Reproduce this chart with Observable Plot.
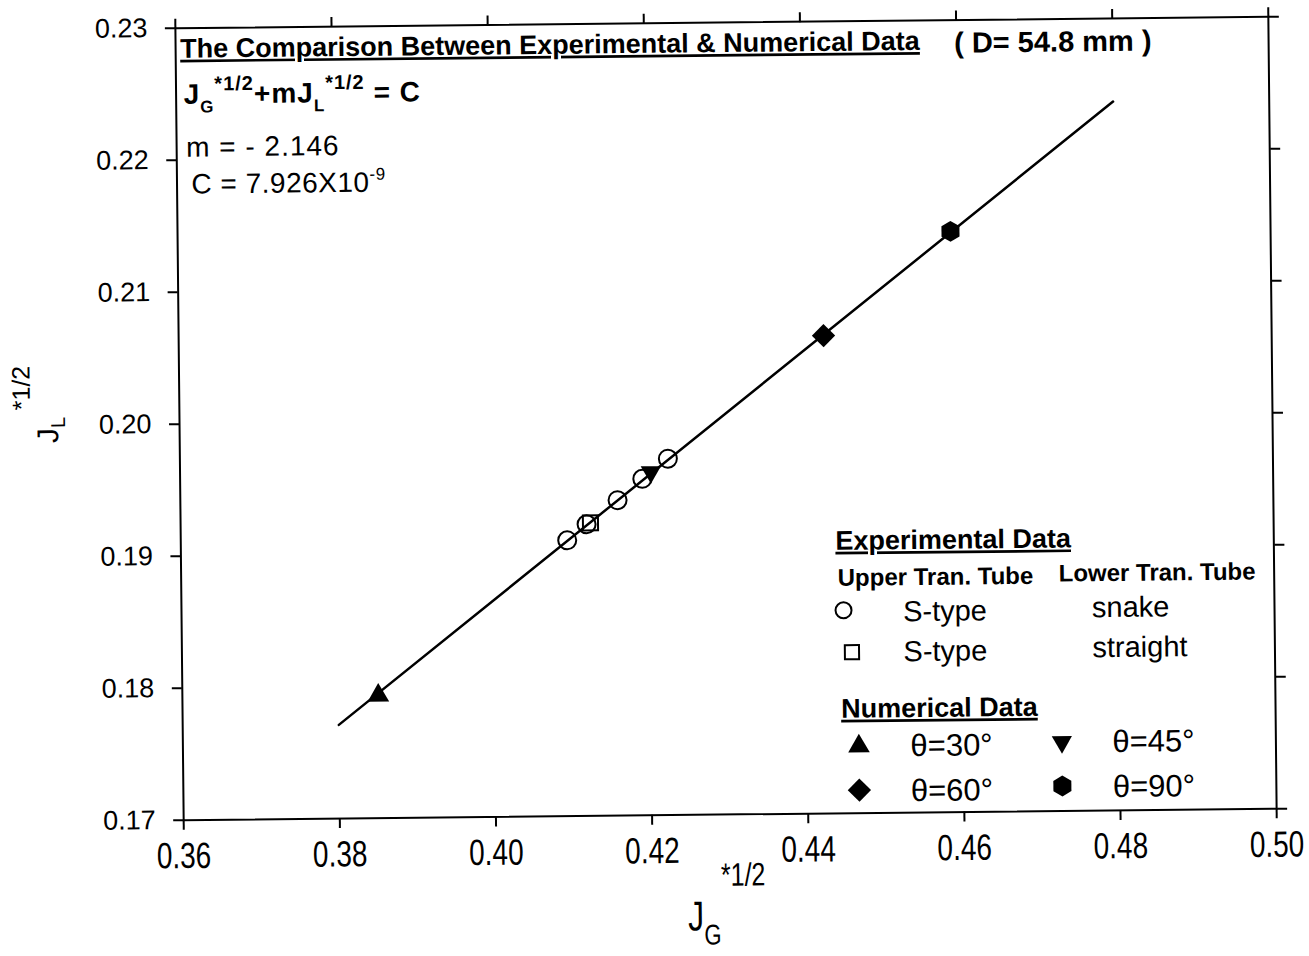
<!DOCTYPE html>
<html>
<head>
<meta charset="utf-8">
<script src="https://cdn.jsdelivr.net/npm/d3@7"></script>
<script src="https://cdn.jsdelivr.net/npm/@observablehq/plot@0.6"></script>
<style>
  html, body { margin: 0; padding: 0; background: #fff; }
  #chart svg { display: block; transform: rotate(-0.6deg); transform-origin: 726px 418px; }
  #chart text { white-space: pre; }
</style>
</head>
<body>
<div id="chart"></div>
<script>
// Axis ticks
const xTicks = [0.36, 0.38, 0.40, 0.42, 0.44, 0.46, 0.48, 0.50];
const yTicks = [0.17, 0.18, 0.19, 0.20, 0.21, 0.22, 0.23];

// Experimental data: S-type upper tube with snake lower tube
const snakeX = [0.4095, 0.4120, 0.4160, 0.4192, 0.4225];
const snakeY = [0.1909, 0.1921, 0.1939, 0.1955, 0.1970];

// Experimental data: S-type upper tube with straight lower tube
const straightX = [0.4125];
const straightY = [0.1922];

// Numerical data by inclination angle
const numAngle = ["θ=30°", "θ=45°", "θ=60°", "θ=90°"];
const numX = [0.3851, 0.4203, 0.4426, 0.4590];
const numY = [0.1793, 0.1960, 0.2062, 0.2140];

// Correlation line  J_G*1/2 + m J_L*1/2 = C  (m = -2.146)
const fitX = [0.38, 0.48];
const fitY = [0.1771, 0.2237];

const snake = snakeX.map((x, i) => ({x, y: snakeY[i]}));
const straight = straightX.map((x, i) => ({x, y: straightY[i]}));
const numerical = numAngle.map((angle, i) => ({angle, x: numX[i], y: numY[i]}));
const fit = fitX.map((x, i) => ({x, y: fitY[i]}));

const FONT = "'Liberation Sans', Arial, Helvetica, sans-serif";
const M = {top: 22, right: 37, bottom: 142, left: 179};
const fmt = d3.format(".2f");

// symbol styles shared by the plotted points and the legend
const sym = {
  "θ=30°": {symbol: "triangle", r: 8, rotate: 0},
  "θ=45°": {symbol: "triangle", r: 7.5, rotate: 180},
  "θ=60°": {symbol: "diamond2", r: 10.5, rotate: 0},
  "θ=90°": {symbol: "hexagon", r: 9, rotate: 0}
};

// legend symbol anchors in pixels (unrotated page coordinates)
const legendSyms = [
  {symbol: "circle", r: 8, x: 841, y: 611, filled: false},
  {symbol: "square", r: 8, x: 849, y: 653, filled: false},
  {key: "θ=30°", x: 855, y: 747},
  {key: "θ=45°", x: 1058, y: 745},
  {key: "θ=60°", x: 855, y: 791},
  {key: "θ=90°", x: 1058, y: 789}
];

const legendMarks = legendSyms.map(s => {
  const st = s.key ? sym[s.key] : {symbol: s.symbol, r: s.r, rotate: 0};
  const filled = s.key ? true : s.filled;
  return Plot.dot([0], {
    frameAnchor: "top-left",
    dx: s.x - M.left,
    dy: s.y - M.top,
    symbol: st.symbol,
    r: st.r,
    rotate: st.rotate,
    fill: filled ? "black" : "none",
    stroke: "black",
    strokeWidth: filled ? 0 : 2
  });
});

const numMarks = numerical.map(d => Plot.dot([d], {
  x: "x", y: "y",
  symbol: sym[d.angle].symbol,
  r: sym[d.angle].r,
  rotate: sym[d.angle].rotate,
  fill: "black"
}));

const plot = Plot.plot({
  width: 1309,
  height: 956,
  marginTop: M.top, marginRight: M.right, marginBottom: M.bottom, marginLeft: M.left,
  x: {domain: [0.36, 0.50]},
  y: {domain: [0.17, 0.23]},
  style: {fontFamily: FONT, fontSize: "27px", color: "black", background: "white", overflow: "visible"},
  marks: [
    Plot.frame({stroke: "black", strokeWidth: 2}),
    Plot.axisX({ticks: xTicks, tickSize: 10, tickPadding: 12, tickFormat: fmt, label: null, strokeWidth: 2}),
    Plot.axisX({anchor: "top", ticks: xTicks, tickSize: 10, tickFormat: () => "", label: null, strokeWidth: 2}),
    Plot.axisY({ticks: yTicks, tickSize: 10, tickPadding: 18, tickFormat: fmt, label: null, strokeWidth: 2}),
    Plot.axisY({anchor: "right", ticks: yTicks, tickSize: 10, tickFormat: () => "", label: null, strokeWidth: 2}),
    Plot.line(fit, {x: "x", y: "y", stroke: "black", strokeWidth: 2.5}),
    Plot.dot(snake, {x: "x", y: "y", symbol: "circle", r: 9, stroke: "black", strokeWidth: 2, fill: "none"}),
    Plot.dot(straight, {x: "x", y: "y", symbol: "square", r: 8.5, stroke: "black", strokeWidth: 2, fill: "none"}),
    ...numMarks,
    ...legendMarks
  ]
});

document.getElementById("chart").appendChild(plot);

const svg = d3.select(plot);

// x tick labels: tall narrow digits (stretch vertically about the tick anchor)
svg.selectAll('g[aria-label="x-axis tick label"] text').each(function () {
  const t = d3.select(this);
  const tr = t.attr("transform") || "";
  t.attr("font-size", 28).attr("transform", `${tr} scale(1,1.3)`);
});
svg.selectAll('g[aria-label="y-axis tick label"] text').attr("font-size", 27);

const ann = svg.append("g")
  .attr("font-family", FONT)
  .attr("fill", "black")
  .attr("text-anchor", "start");

// text with subscripts / superscripts; each part is [text, baseline offset, font size]
function rich(parent, x, y, parts, weight, spacing) {
  const t = parent.append("text")
    .attr("x", x).attr("y", y)
    .attr("text-anchor", "start")
    .attr("font-weight", weight || "normal")
    .attr("letter-spacing", spacing || null);
  let cur = 0;
  for (const [s, off, fs] of parts) {
    t.append("tspan").attr("dy", off - cur).attr("font-size", fs).text(s);
    cur = off;
  }
  return t;
}
function plain(parent, x, y, s, size, weight, underline, spacing) {
  return parent.append("text")
    .attr("x", x).attr("y", y)
    .attr("text-anchor", "start")
    .attr("font-size", size)
    .attr("font-weight", weight || "normal")
    .attr("text-decoration", underline ? "underline" : null)
    .attr("letter-spacing", spacing || null)
    .text(s);
}

// heading and correlation
plain(ann, 184, 52, "The Comparison Between Experimental & Numerical Data", 27, "bold", true);
plain(ann, 958, 55, "( D= 54.8 mm )", 29, "bold");
rich(ann, 187, 98, [
  ["J", 0, 28], ["G", 9, 17], ["*1/2", -13, 20],
  ["+mJ", 0, 28], ["L", 9, 17], ["*1/2", -13, 20], [" = C", 0, 28]
], "bold", 1);
plain(ann, 189, 151, "m = - 2.146", 28, "normal", false, 1);
rich(ann, 194, 188, [["C = 7.926X10", 0, 28], ["-9", -12, 17]], "normal", 0.5);

// legend
plain(ann, 834, 551, "Experimental Data", 27, "bold", true);
plain(ann, 836, 587, "Upper Tran. Tube", 24, "bold");
plain(ann, 1057, 585, "Lower Tran. Tube", 24, "bold");
plain(ann, 901, 623, "S-type", 29);
plain(ann, 1090, 621, "snake", 29);
plain(ann, 901, 663, "S-type", 29);
plain(ann, 1090, 661, "straight", 29);
plain(ann, 838, 719, "Numerical Data", 27, "bold", true);
plain(ann, 907, 758, numAngle[0], 31);
plain(ann, 1109, 756, numAngle[1], 31);
plain(ann, 907, 803, numAngle[2], 31);
plain(ann, 1109, 801, numAngle[3], 31);

// axis titles
const yl = ann.append("g").attr("transform", "translate(58,436) rotate(-90)");
rich(yl, 0, 0, [["J", 0, 30], ["L", 7, 20], [" *1/2", -28, 25]]);
const xl = ann.append("g").attr("transform", "translate(683,930) scale(1,1.3)");
rich(xl, 0, 0, [["J", 0, 32], ["G", 11, 22], ["*1/2", -34, 25]]);
</script>
</body>
</html>
